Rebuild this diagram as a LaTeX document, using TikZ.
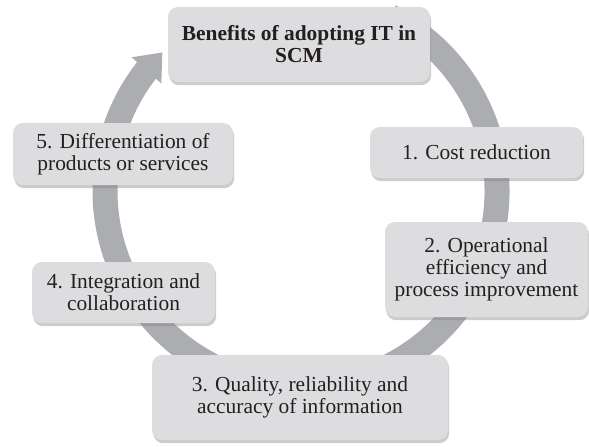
\documentclass[tikz,border=0pt]{standalone}
\usepackage{fontspec}
\setmainfont{Liberation Serif}
\usetikzlibrary{arrows.meta,bending,shadows}
\definecolor{ringgray}{RGB}{172,173,177}
\definecolor{boxgray}{RGB}{221,221,223}
\definecolor{textgray}{RGB}{35,31,32}

\begin{document}
\begin{tikzpicture}[x=0.5pt,y=0.5pt,
    benefit/.style={fill=boxgray,rounded corners=5pt,align=center,text=textgray,
        font=\fontsize{10.7}{11}\selectfont,
        drop shadow={shadow xshift=0.6pt,shadow yshift=-1.6pt,opacity=0.4}},
    title/.style={benefit,font=\bfseries\fontsize{10.7}{11}\selectfont},
    ring/.style={line width=12.5pt,draw=ringgray}]
    \useasboundingbox (0,0) rectangle (589,446);
    % Cycle arrow behind the boxes
    \coordinate (hub) at (301,255);
    \draw[ring,-{Triangle[width=19pt,length=12pt,flex]}]
        ([shift={(63:196)}]hub) arc[start angle=63,end angle=-225,radius=196];
    % Boxes
    \node[title,minimum width=131pt,minimum height=37.5pt] (top) at (299,401.5)
        {Benefits of adopting IT in\\SCM};
    \node[benefit,minimum width=106.5pt,minimum height=25.5pt] (cost) at (476.5,293.5)
        {1. Cost reduction};
    \node[benefit,minimum width=101.5pt,minimum height=47.5pt] (effic) at (486.5,176.5)
        {2. Operational\\efficiency and\\process improvement};
    \node[benefit,minimum width=148pt,minimum height=42.5pt] (quality) at (300,48.5)
        {3. Quality, reliability and\\accuracy of information};
    \node[benefit,minimum width=91.5pt,minimum height=30.5pt] (integr) at (123.5,153.5)
        {4. Integration and\\collaboration};
    \node[benefit,minimum width=110pt,minimum height=31pt] (differ) at (123,292)
        {5. Differentiation of\\products or services};
\end{tikzpicture}
\end{document}
